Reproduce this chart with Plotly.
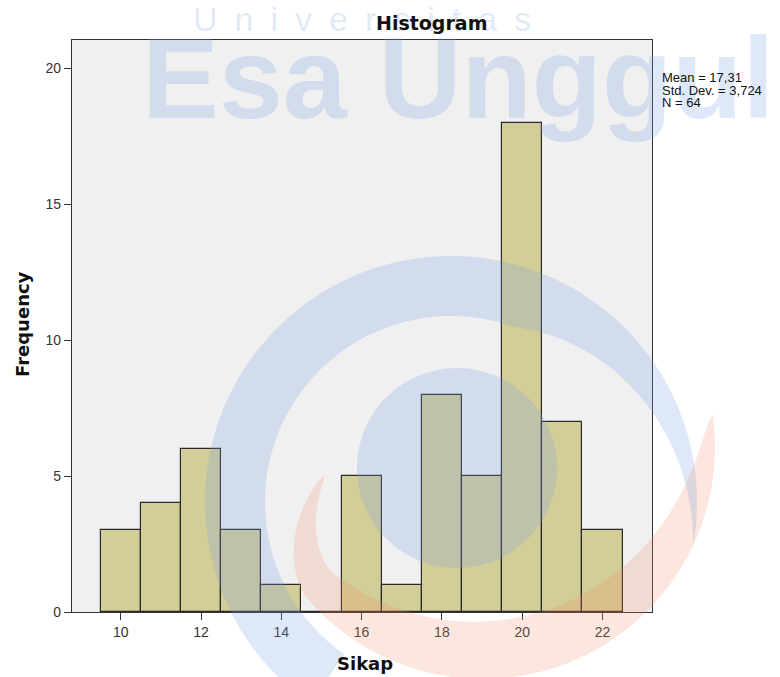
import numpy as np
import plotly.graph_objects as go

# ---- data ----
sikap = [10, 11, 12, 13, 14, 15, 16, 17, 18, 19, 20, 21, 22]
frequency = [3, 4, 6, 3, 1, 0, 5, 1, 8, 5, 18, 7, 3]
x_tick_vals = [10, 12, 14, 16, 18, 20, 22]
y_tick_vals = [0, 5, 10, 15, 20]
stats_lines = ["Mean = 17,31", "Std. Dev. = 3,724", "N = 64"]
chart_title = "Histogram"
x_title = "Sikap"
y_title = "Frequency"
wm_small = "Universitas"
wm_big = "Esa Unggul"

# ---- layout geometry (pixels) ----
W, H = 780, 677
ML, MR, MT, MB = 72, 128, 40, 65
PW, PH = W - ML - MR, H - MT - MB


def pp(x, y):
    """pixel -> paper coordinates"""
    return (x - ML) / PW, (H - MB - y) / PH


def band_path(cx, cy, r_out_fn, thick_fn, th1, th2, n=160):
    th = np.linspace(th1, th2, n)
    rad = np.radians(th)
    ro = np.array([r_out_fn(t) for t in th])
    ri = ro - np.array([thick_fn(t) for t in th])
    outer = [(cx + r * np.cos(a), cy + r * np.sin(a)) for r, a in zip(ro, rad)]
    inner = [(cx + r * np.cos(a), cy + r * np.sin(a)) for r, a in zip(ri, rad)][::-1]
    pts = [pp(x, y) for x, y in outer + inner]
    return "M " + " L ".join(f"{x:.4f},{y:.4f}" for x, y in pts) + " Z"


def disc_path(cx, cy, r, n=120):
    a = np.linspace(0, 2 * np.pi, n, endpoint=False)
    pts = [pp(cx + r * np.cos(t), cy + r * np.sin(t)) for t in a]
    return "M " + " L ".join(f"{x:.4f},{y:.4f}" for x, y in pts) + " Z"


blue = "rgba(120,160,225,0.24)"
orange = "rgba(240,140,100,0.22)"

shapes = [
    dict(type="path", xref="paper", yref="paper", layer="above",
         path=band_path(483, 447,
                        lambda t: 232 - 70 * max(0.0, (t - 140) / 30) ** 1.5,
                        lambda t: 58 * max(0.0, np.sin(np.pi * (t + 8) / 178)) ** 0.7,
                        -8, 170),
         fillcolor=orange, line=dict(width=0)),
    dict(type="path", xref="paper", yref="paper", layer="above",
         path=band_path(451, 502, lambda t: 246,
                        lambda t: 60 * min(1.0, (370 - t) / 80),
                        125, 370),
         fillcolor=blue, line=dict(width=0)),
    dict(type="path", xref="paper", yref="paper", layer="above",
         path=disc_path(457, 468, 100),
         fillcolor=blue, line=dict(width=0)),
]

fig = go.Figure()
fig.add_trace(go.Bar(
    x=sikap, y=frequency, width=1,
    marker=dict(color="#D3CE97", line=dict(color="#2a2a2a", width=1.2)),
    hoverinfo="x+y",
))

annotations = []
# watermark texts
ux, uy = pp(362, 19)
annotations.append(dict(text="\u2002".join(list(wm_small)), x=ux, y=uy, xref="paper", yref="paper",
                        xanchor="center", yanchor="middle", showarrow=False,
                        font=dict(family="Liberation Sans, Arial", size=34, color=blue)))
ex, ey = pp(458, 78)
annotations.append(dict(text=f"<b>{wm_big}</b>", x=ex, y=ey, xref="paper", yref="paper",
                        xanchor="center", yanchor="middle", showarrow=False,
                        font=dict(family="Liberation Sans, Arial", size=115, color=blue)))
# title
tx, ty = pp(431, 23)
annotations.append(dict(text=f"<b>{chart_title}</b>", x=tx, y=ty, xref="paper", yref="paper",
                        xanchor="center", yanchor="middle", showarrow=False,
                        font=dict(family="DejaVu Sans", size=19, color="#111")))
# axis titles
sx, sy = pp(365, 663)
annotations.append(dict(text=f"<b>{x_title}</b>", x=sx, y=sy, xref="paper", yref="paper",
                        xanchor="center", yanchor="middle", showarrow=False,
                        font=dict(family="DejaVu Sans", size=18, color="#111")))
fx, fy = pp(22, 324)
annotations.append(dict(text=f"<b>{y_title}</b>", x=fx, y=fy, xref="paper", yref="paper",
                        xanchor="center", yanchor="middle", showarrow=False, textangle=-90,
                        font=dict(family="DejaVu Sans", size=18, color="#111")))
# stats
for i, line in enumerate(stats_lines):
    lx, ly = pp(660, 77 + 13 * i)
    annotations.append(dict(text=line, x=lx, y=ly, xref="paper", yref="paper",
                            xanchor="left", yanchor="middle", showarrow=False,
                            font=dict(family="Liberation Sans, Arial", size=13, color="#111")))

fig.update_layout(
    width=W, height=H,
    margin=dict(l=ML, r=MR, t=MT, b=MB, pad=0),
    paper_bgcolor="white",
    plot_bgcolor="#F0F0F0",
    showlegend=False,
    bargap=0,
    shapes=shapes,
    annotations=annotations,
    xaxis=dict(range=[8.787, 23.233], tickmode="array", tickvals=x_tick_vals,
               ticks="outside", ticklen=7, tickwidth=1.2, tickcolor="#333",
               showline=True, linecolor="#333", linewidth=1.2, mirror=True,
               showgrid=False, zeroline=False,
               tickfont=dict(family="Liberation Sans, Arial", size=14, color="#333")),
    yaxis=dict(range=[0, 21.05], tickmode="array", tickvals=y_tick_vals,
               ticks="outside", ticklen=7, tickwidth=1.2, tickcolor="#333",
               showline=True, linecolor="#333", linewidth=1.2, mirror=True,
               showgrid=False, zeroline=False,
               tickfont=dict(family="Liberation Sans, Arial", size=14, color="#333")),
)

fig.write_html("out.html", config={"displayModeBar": False},
               post_script="document.body.style.margin='0px';document.body.style.overflow='hidden';")
